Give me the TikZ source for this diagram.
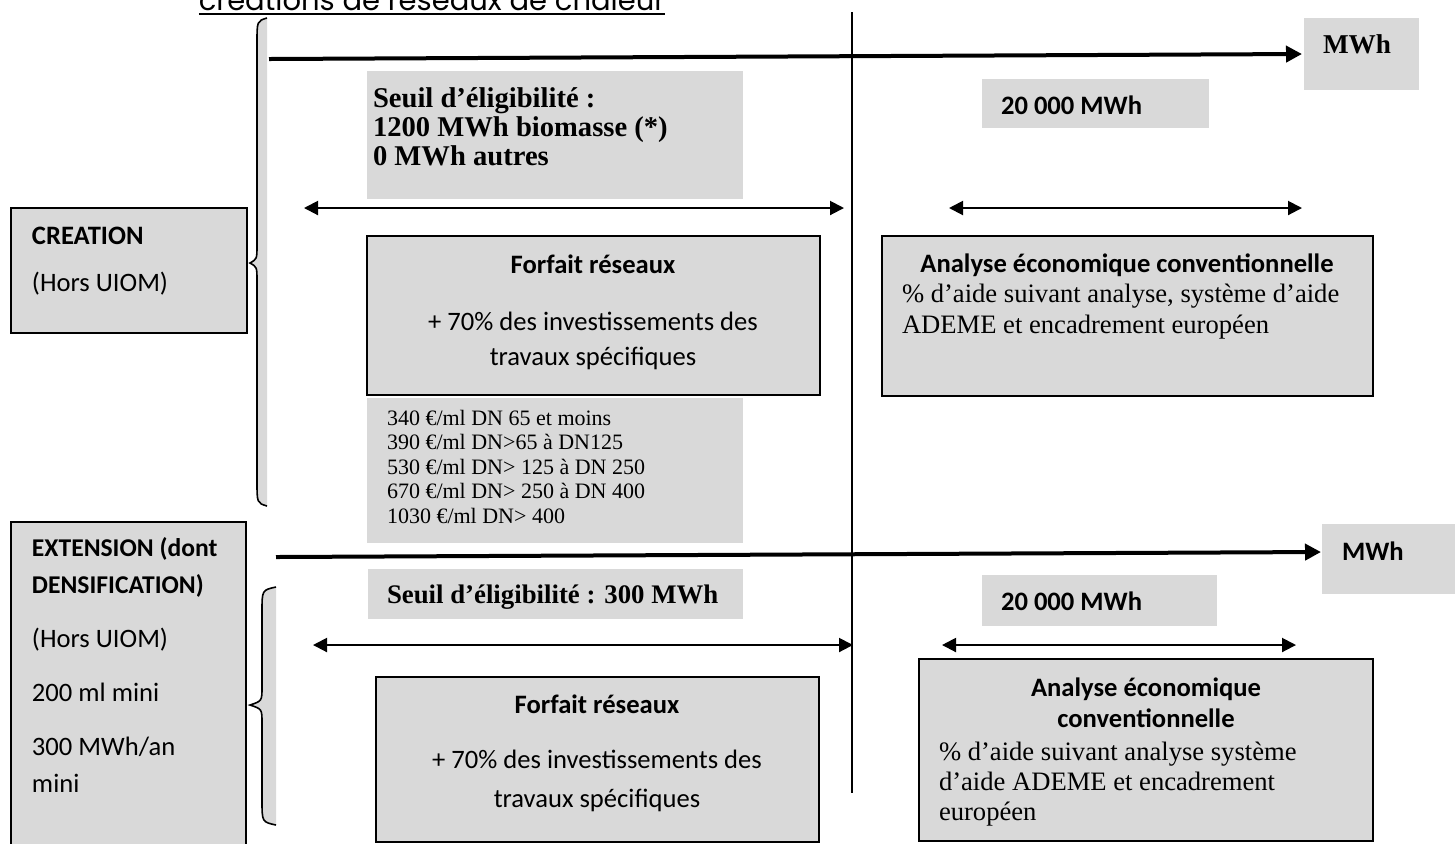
\documentclass[tikz,border=0pt]{standalone}
\usepackage{fontspec}
\setmainfont{Liberation Serif}
\newfontfamily\calibri{Carlito}
\newfontfamily\gothique{Poppins}
\usetikzlibrary{arrows.meta}

\definecolor{grisclair}{HTML}{D9D9D9}
\tikzset{
  boite/.style={fill=grisclair,draw=black,line width=0.8pt},
  fond/.style={fill=grisclair},
  duree/.style={line width=1pt,{Triangle[length=7pt,width=7pt]}-{Triangle[length=7pt,width=7pt]}},
  axe/.style={line width=2pt,-{Triangle[length=8pt,width=8pt]}},
  txt/.style={inner sep=0pt,outer sep=0pt},
}
% accolade : x bout, x bras, x pointe, haut, milieu, bas
\newcommand{\accolade}[6]{%
  \fill[grisclair] (#1,#4) .. controls (#2,#4+3) .. (#2,#4+25) -- (#2,#5-18)
    .. controls (#2,#5-4) .. (#3,#5) .. controls (#2,#5+4) .. (#2,#5+18)
    -- (#2,#6-25) .. controls (#2,#6-3) .. (#1,#6) -- cycle;
  \draw[line width=0.8pt] (#1,#4) .. controls (#2,#4+3) .. (#2,#4+25) -- (#2,#5-18)
    .. controls (#2,#5-4) .. (#3,#5) .. controls (#2,#5+4) .. (#2,#5+18)
    -- (#2,#6-25) .. controls (#2,#6-3) .. (#1,#6);
}

\begin{document}
\begin{tikzpicture}[x=0.5pt,y=-0.5pt]
  \useasboundingbox (0,0) rectangle (1455,843);
  % titre coupe en haut
  \node[txt,anchor=base,font={\gothique\fontsize{14.5}{16}\selectfont}] (titre) at (432,10) {créations de réseaux de chaleur};
  \draw[line width=1pt] ([yshift=-2pt]titre.base west) -- ([yshift=-2pt]titre.base east);

  % fonds gris
  \fill[fond] (367,71) rectangle (743,199);
  \fill[fond] (982,79) rectangle (1209,128);
  \fill[fond] (1304,18) rectangle (1419,90);
  \fill[fond] (367,398) rectangle (743,543);
  \fill[fond] (368,569) rectangle (743,619);
  \fill[fond] (982,575) rectangle (1217,626);
  \fill[fond] (1322,524) rectangle (1460,594);
  % boites
  \draw[boite] (11,208) rectangle (247,333);
  \draw[boite] (367,236) rectangle (820,395);
  \draw[boite] (882,236) rectangle (1373,396);
  \draw[boite] (11,522) rectangle (246,850);
  \draw[boite] (376,677) rectangle (819,842);
  \draw[boite] (919,659) rectangle (1373,841);

  \accolade{267}{257}{250}{18}{263}{506}
  \accolade{276}{262}{250}{587}{705}{825}

  \draw[line width=0.8pt] (852,12) -- (852,793);

  % axes MWh
  \coordinate (axeA) at (269,59); \coordinate (axeAfin) at (1302,54);
  \coordinate (axeB) at (276,557); \coordinate (axeBfin) at (1321,552);
  \draw[axe] (axeA) -- (axeAfin);
  \draw[axe] (axeB) -- (axeBfin);
  % plages
  \coordinate (pA1) at (304,208); \coordinate (pA2) at (844,208);
  \coordinate (pA3) at (949,208); \coordinate (pA4) at (1302,208);
  \coordinate (pB1) at (313,645); \coordinate (pB2) at (853,645);
  \coordinate (pB3) at (942,645); \coordinate (pB4) at (1296,645);
  \draw[duree] (pA1) -- (pA2); \draw[duree] (pA3) -- (pA4);
  \draw[duree] (pB1) -- (pB2); \draw[duree] (pB3) -- (pB4);

  % textes creation
  \node[txt,anchor=base west,font={\bfseries\fontsize{13.6}{15}\selectfont}] (uniteA) at (1323,53) {MWh};
  \node[txt,anchor=north west,align=left,font={\bfseries\fontsize{14.3}{14.5}\selectfont}] (seuilA) at (373,87)
    {\strut Seuil d’éligibilité :\\1200 MWh biomasse (*)\\0 MWh autres};
  \node[txt,anchor=base west,font={\calibri\bfseries\fontsize{13.3}{15}\selectfont}] (plafondA) at (1001,114) {20 000 MWh};
  \node[txt,anchor=north west,align=left,font={\calibri\fontsize{13.3}{23.5}\selectfont}] (creation) at (32,212)
    {\strut\textbf{CREATION}\\(Hors UIOM)};
  \node[txt,anchor=north,align=center,font={\calibri\fontsize{13.3}{17.5}\selectfont}] (forfaitA) at (593,248.5)
    {\strut\textbf{Forfait réseaux}\\[11pt]+ 70\% des investissements des\\travaux spécifiques};
  \node[txt,anchor=base,font={\calibri\bfseries\fontsize{13.3}{16}\selectfont}] (analyseA) at (1127,272) {Analyse économique conventionnelle};
  \node[txt,anchor=north west,align=left,font={\fontsize{13.3}{15.5}\selectfont}] (aideA) at (902,281)
    {\strut\% d’aide suivant analyse, système d’aide\\ADEME et encadrement européen};
  \node[txt,anchor=north west,align=left,font={\fontsize{11}{12.25}\selectfont}] (couts) at (387,408)
    {\strut 340 €/ml DN 65 et moins\\390 €/ml DN>65 à DN125\\530 €/ml DN> 125 à DN 250\\670 €/ml DN> 250 à DN 400\\1030 €/ml DN> 400};

  % textes extension
  \node[txt,anchor=base west,font={\calibri\bfseries\fontsize{13.3}{15}\selectfont}] (uniteB) at (1342,560) {MWh};
  \node[txt,anchor=base west,font={\bfseries\fontsize{13.4}{15}\selectfont}] (seuilB) at (387,603) {Seuil d’éligibilité : 300 MWh};
  \node[txt,anchor=base west,font={\calibri\bfseries\fontsize{13.3}{15}\selectfont}] (plafondB) at (1001,610) {20 000 MWh};
  \node[txt,anchor=north west,align=left,font={\calibri\fontsize{13.3}{18.5}\selectfont}] (extension) at (32,531)
    {\strut{\fontsize{12.8}{18.5}\selectfont\bfseries EXTENSION (dont}\\{\fontsize{12.8}{18.5}\selectfont\bfseries DENSIFICATION)}\\[8.5pt](Hors UIOM)\\[8.5pt]200 ml mini\\[8.5pt]300 MWh/an\\mini};
  \node[txt,anchor=north,align=center,font={\calibri\fontsize{13.3}{19.5}\selectfont}] (forfaitB) at (597,686)
    {\strut\textbf{Forfait réseaux}\\[8pt]+ 70\% des investissements des\\travaux spécifiques};
  \node[txt,anchor=north,align=center,font={\calibri\bfseries\fontsize{13.3}{15.5}\selectfont}] (analyseB) at (1146,675)
    {\strut Analyse économique\\conventionnelle};
  \node[txt,anchor=north west,align=left,font={\fontsize{13.3}{15}\selectfont}] (aideB) at (939,739)
    {\strut\% d’aide suivant analyse système\\d’aide ADEME et encadrement\\européen};
\end{tikzpicture}
\end{document}
